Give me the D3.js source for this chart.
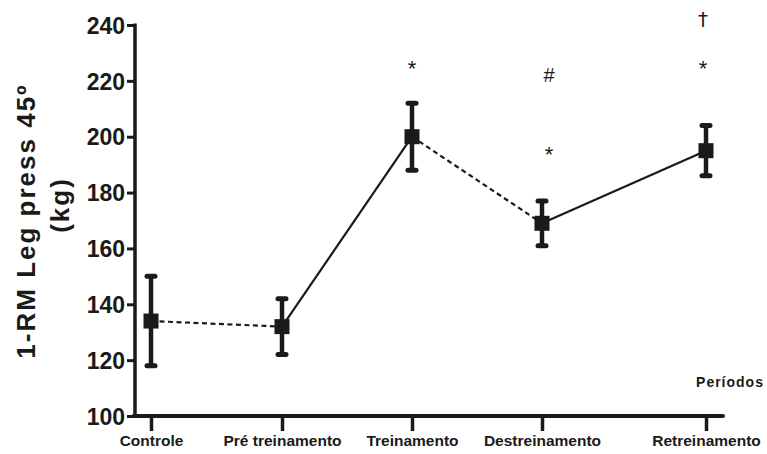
<!DOCTYPE html>
<html>
<head>
<meta charset="utf-8">
<script src="https://cdn.jsdelivr.net/npm/d3@7/dist/d3.min.js"></script>
<style>
  html, body { margin: 0; padding: 0; background: #fff; }
  svg { display: block; font-family: Arial, "Liberation Sans", sans-serif; }
</style>
</head>
<body>
<svg id="chart" width="767" height="454"></svg>
<script>
// Periods and 1-RM leg press values (mean ± error)
const periods = ["Controle", "Pré treinamento", "Treinamento", "Destreinamento", "Retreinamento"];
const means   = [134, 132, 200, 169, 195];
const lower   = [118, 122, 188, 161, 186];
const upper   = [150, 142, 212, 177, 204];
// segment style between consecutive periods
const segmentDashed = [true, false, true, false];
// significance marks: [period, value position, symbol]
const marks = [
  ["Treinamento", 226, "*"],
  ["Destreinamento", 222, "#"],
  ["Destreinamento", 195, "*"],
  ["Retreinamento", 242, "†"],
  ["Retreinamento", 226, "*"]
];
const yTicks = [100, 120, 140, 160, 180, 200, 220, 240];

const svg = d3.select("#chart");
const ink = "#1a1a1a";

const y = d3.scaleLinear().domain([100, 240]).range([416, 25]);
const x = d3.scaleOrdinal().domain(periods).range([151, 282, 412, 542, 706]);
const markOffset = { "Treinamento": 0, "Destreinamento": 7, "Retreinamento": -3 };

// Y axis
const yAxis = d3.axisLeft(y).tickValues(yTicks).tickSize(8).tickPadding(2).tickFormat(d3.format("d"));
const gy = svg.append("g").attr("transform", "translate(135,0)").call(yAxis);
gy.select(".domain").attr("d", `M0,${y(240) - 1.5}V${y(100) + 1.5}`).attr("stroke", ink).attr("stroke-width", 3.5);
gy.selectAll(".tick line").attr("stroke", ink).attr("stroke-width", 3);
gy.selectAll(".tick text").attr("fill", ink).attr("font-size", 23).attr("font-weight", "bold").attr("dy", "0.36em");

// X axis
const xAxis = d3.axisBottom(x).tickSize(15).tickPadding(4);
const gx = svg.append("g").attr("transform", `translate(0,${y(100)})`).call(xAxis);
gx.select(".domain").attr("d", "M133.5,0H723").attr("stroke", ink).attr("stroke-width", 4).attr("stroke-linecap", "round");
gx.selectAll(".tick line").attr("stroke", ink).attr("stroke-width", 3.5);
gx.selectAll(".tick text").attr("fill", ink).attr("font-size", 15.5).attr("font-weight", "bold");

// Axis titles
const yTitle = svg.append("text")
  .attr("transform", "translate(26,221) rotate(-90)")
  .attr("text-anchor", "middle").attr("fill", ink)
  .attr("font-size", 26).attr("font-weight", "bold").attr("letter-spacing", 2);
yTitle.append("tspan").attr("x", 0).attr("dy", "0.35em").text("1-RM Leg  press 45º");
yTitle.append("tspan").attr("x", 16).attr("dy", "1.3em").text("(kg)");

svg.append("text")
  .attr("x", 730).attr("y", 387)
  .attr("text-anchor", "middle").attr("fill", ink)
  .attr("font-size", 14).attr("font-weight", "bold").attr("letter-spacing", 1)
  .text("Períodos");

// Connecting segments
const pts = periods.map((p, i) => ({ p, m: means[i], lo: lower[i], hi: upper[i] }));
segmentDashed.forEach((dashed, i) => {
  const a = pts[i], b = pts[i + 1];
  svg.append("line")
    .attr("x1", x(a.p)).attr("y1", y(a.m))
    .attr("x2", x(b.p)).attr("y2", y(b.m))
    .attr("stroke", ink).attr("stroke-width", 2.2)
    .attr("stroke-dasharray", dashed ? "5,3.5" : null);
});

// Error bars
const eb = svg.append("g").selectAll("g").data(pts).join("g");
eb.append("line")
  .attr("x1", d => x(d.p)).attr("x2", d => x(d.p))
  .attr("y1", d => y(d.hi)).attr("y2", d => y(d.lo))
  .attr("stroke", ink).attr("stroke-width", 4.5);
["hi", "lo"].forEach(k => {
  eb.append("line")
    .attr("x1", d => x(d.p) - 4).attr("x2", d => x(d.p) + 4)
    .attr("y1", d => y(d[k])).attr("y2", d => y(d[k]))
    .attr("stroke", ink).attr("stroke-width", 5).attr("stroke-linecap", "round");
});

// Square markers
const s = 15;
svg.append("g").selectAll("rect").data(pts).join("rect")
  .attr("x", d => x(d.p) - s / 2).attr("y", d => y(d.m) - s / 2)
  .attr("width", s).attr("height", s).attr("fill", ink);

// Significance symbols
svg.append("g").selectAll("text").data(marks).join("text")
  .attr("x", d => x(d[0]) + markOffset[d[0]])
  .attr("y", d => y(d[1]))
  .attr("text-anchor", "middle")
  .attr("dy", d => d[2] === "*" ? "0.52em" : "0.35em")
  .attr("fill", ink)
  .attr("font-family", d => d[2] === "†" ? "'DejaVu Sans', sans-serif" : null)
  .attr("font-size", d => d[2] === "*" ? 22 : 20)
  .text(d => d[2]);
</script>
</body>
</html>
